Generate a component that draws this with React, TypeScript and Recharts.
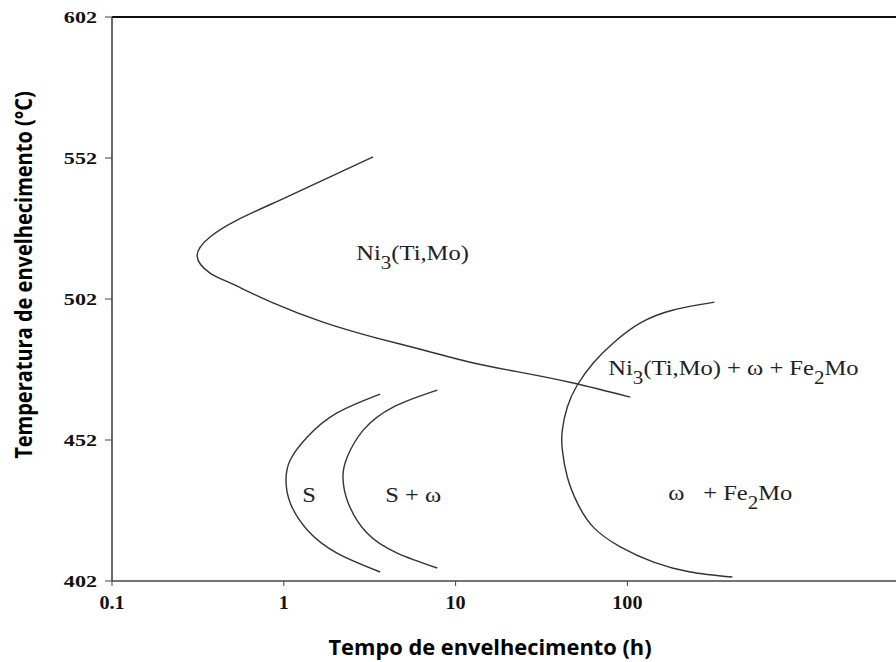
import { LineChart, Line, XAxis, YAxis, ReferenceLine, ReferenceDot } from 'recharts'

// axis ticks
const timeTicks = [0.1, 1, 10, 100]
const tempTicks = [402, 452, 502, 552, 602]

// Ni3(Ti,Mo) C-curve
const ni3Hours = [3.31, 1.86, 0.952, 0.535, 0.372, 0.313, 0.372, 0.487, 0.866, 1.69, 3.31, 6.48, 12.7, 24.8, 48.4, 104]
const ni3Temps = [552.4, 545.3, 537.1, 530.0, 524.0, 517.2, 511.2, 507.7, 500.6, 493.8, 488.5, 483.9, 479.3, 475.8, 472.2, 467.2]

// S curve
const sHours = [3.64, 2.04, 1.37, 1.09, 1.03, 1.09, 1.37, 2.04, 3.64]
const sTemps = [468.3, 461.6, 453.1, 444.9, 437.8, 429.7, 420.1, 411.9, 405.2]

// S + omega curve
const sOmegaHours = [7.82, 4.33, 2.9, 2.34, 2.21, 2.37, 3.05, 4.57, 7.82]
const sOmegaTemps = [469.7, 463.7, 455.5, 446.0, 438.9, 429.7, 419.0, 411.9, 406.6]

// omega + Fe2Mo curve
const fe2MoHours = [321, 185, 119, 82.8, 63.3, 51.1, 44.7, 41.8, 41.8, 44.7, 51.1, 63.3, 90.9, 142, 232, 408]
const fe2MoTemps = [500.9, 498.1, 493.5, 486.4, 479.3, 471.5, 463.7, 455.5, 448.5, 438.9, 429.7, 421.1, 414.1, 408.7, 405.2, 403.4]

// phase field labels (left baseline)
const labelHours = [2.64, 77.4, 1.28, 3.89, 173]
const labelTemps = [515.8, 475.0, 430.0, 430.0, 430.7]
type Part = { t: string; sub?: boolean; dx?: number }
const labelParts: Part[][] = [
  [{ t: 'Ni' }, { t: '3', sub: true }, { t: '(Ti,Mo)' }],
  [{ t: 'Ni' }, { t: '3', sub: true }, { t: '(Ti,Mo) + ω + Fe' }, { t: '2', sub: true }, { t: 'Mo' }],
  [{ t: 'S' }],
  [{ t: 'S + ω' }],
  [{ t: 'ω' }, { t: '+ Fe', dx: 16 }, { t: '2', sub: true }, { t: 'Mo' }],
]

const zip = (h: number[], t: number[]) => h.map((v, i) => ({ h: v, t: t[i] }))
const curves = [
  zip(ni3Hours, ni3Temps),
  zip(sHours, sTemps),
  zip(sOmegaHours, sOmegaTemps),
  zip(fe2MoHours, fe2MoTemps),
]

const SERIF = "'Liberation Serif', 'Times New Roman', serif"
const SANS = "'Open Sans', 'Noto Sans', sans-serif"
const INK = '#222'

function PhaseText({ cx, cy, parts }: { cx?: number; cy?: number; parts: Part[] }) {
  if (cx == null || cy == null) return null
  return (
    <g transform={`translate(${cx},${cy}) scale(1.17,1)`}>
      <text x={0} y={0} fontFamily={SERIF} fontSize={21} fill={INK}>
        {parts.map((p, i) => {
          const prevSub = i > 0 && parts[i - 1].sub
          const dy = p.sub ? 9 : prevSub ? -9 : 0
          return (
            <tspan key={i} dy={dy} dx={p.dx ?? 0} fontSize={p.sub ? 18 : 21}>
              {p.t}
            </tspan>
          )
        })}
      </text>
    </g>
  )
}

function TempTick({ x, y, payload }: any) {
  return (
    <g transform={`translate(${x},${y}) scale(1.3,1)`}>
      <text x={0} y={0} dy="0.36em" textAnchor="end" fontFamily={SERIF} fontWeight="bold" fontSize={17} fill="#111">
        {payload.value}
      </text>
    </g>
  )
}

function TimeTick({ x, y, payload }: any) {
  return (
    <g transform={`translate(${x},${y}) scale(1.12,1)`}>
      <text x={0} y={0} dy={13} textAnchor="middle" fontFamily={SERIF} fontWeight="bold" fontSize={18} fill="#111">
        {payload.value}
      </text>
    </g>
  )
}

export default function App() {
  return (
    <div style={{ position: 'absolute', left: 0, top: 0, width: 896, height: 662, overflow: 'hidden', background: '#fff' }}>
      <LineChart width={971} height={662} margin={{ top: 17, right: 0, bottom: 0, left: 0 }}>
        <XAxis
          dataKey="h"
          type="number"
          scale="log"
          domain={[0.1, 10000]}
          ticks={timeTicks}
          allowDataOverflow
          height={81}
          tickSize={5}
          tickMargin={10}
          tick={<TimeTick />}
          axisLine={{ stroke: '#444', strokeWidth: 1.6 }}
          tickLine={{ stroke: '#444' }}
          label={{
            content: () => (
              <g transform="translate(490,655) scale(1.04,1)">
                <text x={0} y={0} textAnchor="middle" fontFamily={SANS} fontWeight="bold" fontSize={21} fill="#000">
                  Tempo de envelhecimento (h)
                </text>
              </g>
            ),
          }}
        />
        <YAxis
          dataKey="t"
          type="number"
          domain={[402, 602]}
          ticks={tempTicks}
          width={112}
          tickSize={7}
          tickMargin={8}
          tick={<TempTick />}
          axisLine={{ stroke: '#444', strokeWidth: 1.6 }}
          tickLine={{ stroke: '#444' }}
          label={{
            content: () => (
              <g transform="translate(32,275) scale(1.2,1) rotate(-90)">
                <text x={0} y={0} textAnchor="middle" fontFamily={SANS} fontWeight="bold" fontSize={20} fill="#000">
                  Temperatura de envelhecimento (°C)
                </text>
              </g>
            ),
          }}
        />
        <ReferenceLine y={602} stroke="#111" strokeWidth={2} />
        {curves.map((d, i) => (
          <Line
            key={i}
            data={d}
            dataKey="t"
            type="natural"
            stroke="#333"
            strokeWidth={1.4}
            dot={false}
            activeDot={false}
            isAnimationActive={false}
          />
        ))}
        {labelParts.map((parts, i) => (
          <ReferenceDot
            key={i}
            x={labelHours[i]}
            y={labelTemps[i]}
            r={0}
            shape={(p: any) => <PhaseText cx={p.cx} cy={p.cy} parts={parts} />}
          />
        ))}
      </LineChart>
    </div>
  )
}
